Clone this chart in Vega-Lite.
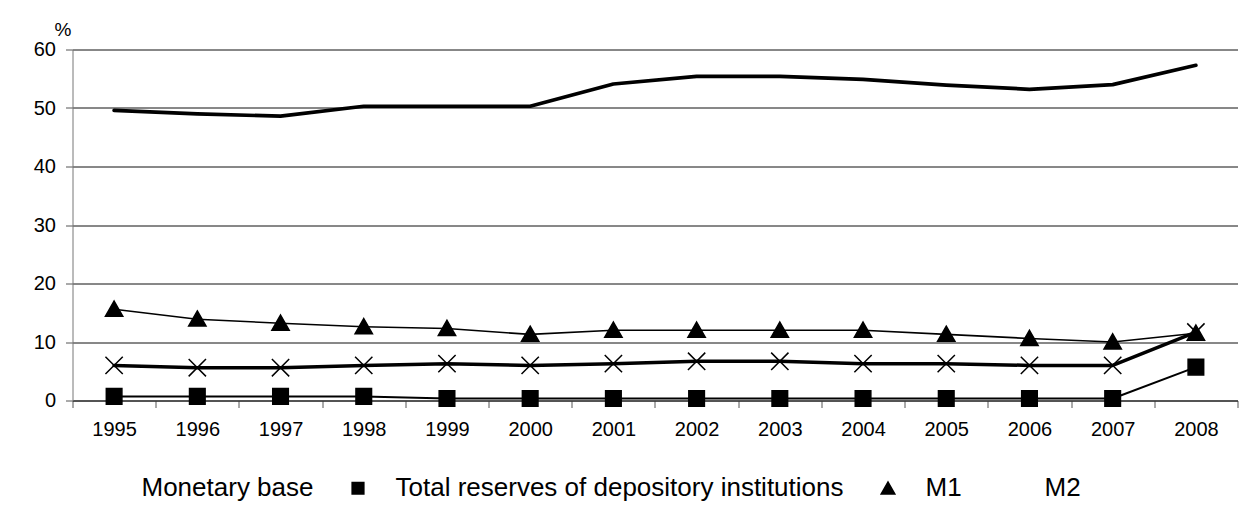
{
  "$schema": "https://vega.github.io/schema/vega-lite/v6.json",
  "width": 1165,
  "height": 351,
  "autosize": {"type": "none"},
  "padding": {"left": 72.5, "top": 49.5, "right": 17, "bottom": 117},
  "background": "white",
  "config": {
    "font": "Liberation Sans",
    "view": {"stroke": null},
    "axis": {"labelFont": "Liberation Sans", "titleFont": "Liberation Sans"},
    "legend": {
      "title": null,
      "orient": "none",
      "legendX": 0,
      "legendY": 407,
      "direction": "horizontal",
      "symbolSize": 3600,
      "symbolFillColor": "black",
      "symbolStrokeColor": "black",
      "symbolStrokeWidth": 2.5,
      "symbolOpacity": 1,
      "labelFontSize": 26,
      "labelColor": "black",
      "labelFont": "Liberation Sans",
      "labelLimit": 1000,
      "labelOffset": 6,
      "columnPadding": 9
    }
  },
  "data": {
    "values": [
      {"year": "1995", "series": "Monetary base", "value": 6.0},
      {"year": "1996", "series": "Monetary base", "value": 5.6},
      {"year": "1997", "series": "Monetary base", "value": 5.6},
      {"year": "1998", "series": "Monetary base", "value": 6.0},
      {"year": "1999", "series": "Monetary base", "value": 6.3},
      {"year": "2000", "series": "Monetary base", "value": 6.0},
      {"year": "2001", "series": "Monetary base", "value": 6.3},
      {"year": "2002", "series": "Monetary base", "value": 6.7},
      {"year": "2003", "series": "Monetary base", "value": 6.7},
      {"year": "2004", "series": "Monetary base", "value": 6.3},
      {"year": "2005", "series": "Monetary base", "value": 6.3},
      {"year": "2006", "series": "Monetary base", "value": 6.0},
      {"year": "2007", "series": "Monetary base", "value": 6.0},
      {"year": "2008", "series": "Monetary base", "value": 11.7},
      {"year": "1995", "series": "Total reserves of depository institutions", "value": 0.7},
      {"year": "1996", "series": "Total reserves of depository institutions", "value": 0.7},
      {"year": "1997", "series": "Total reserves of depository institutions", "value": 0.7},
      {"year": "1998", "series": "Total reserves of depository institutions", "value": 0.7},
      {"year": "1999", "series": "Total reserves of depository institutions", "value": 0.35},
      {"year": "2000", "series": "Total reserves of depository institutions", "value": 0.35},
      {"year": "2001", "series": "Total reserves of depository institutions", "value": 0.35},
      {"year": "2002", "series": "Total reserves of depository institutions", "value": 0.35},
      {"year": "2003", "series": "Total reserves of depository institutions", "value": 0.35},
      {"year": "2004", "series": "Total reserves of depository institutions", "value": 0.35},
      {"year": "2005", "series": "Total reserves of depository institutions", "value": 0.35},
      {"year": "2006", "series": "Total reserves of depository institutions", "value": 0.35},
      {"year": "2007", "series": "Total reserves of depository institutions", "value": 0.35},
      {"year": "2008", "series": "Total reserves of depository institutions", "value": 5.7},
      {"year": "1995", "series": "M1", "value": 15.6},
      {"year": "1996", "series": "M1", "value": 13.9},
      {"year": "1997", "series": "M1", "value": 13.2},
      {"year": "1998", "series": "M1", "value": 12.6},
      {"year": "1999", "series": "M1", "value": 12.3},
      {"year": "2000", "series": "M1", "value": 11.3},
      {"year": "2001", "series": "M1", "value": 12.0},
      {"year": "2002", "series": "M1", "value": 12.0},
      {"year": "2003", "series": "M1", "value": 12.0},
      {"year": "2004", "series": "M1", "value": 12.0},
      {"year": "2005", "series": "M1", "value": 11.3},
      {"year": "2006", "series": "M1", "value": 10.6},
      {"year": "2007", "series": "M1", "value": 10.0},
      {"year": "2008", "series": "M1", "value": 11.5},
      {"year": "1995", "series": "M2", "value": 49.6},
      {"year": "1996", "series": "M2", "value": 49.0},
      {"year": "1997", "series": "M2", "value": 48.6},
      {"year": "1998", "series": "M2", "value": 50.3},
      {"year": "1999", "series": "M2", "value": 50.3},
      {"year": "2000", "series": "M2", "value": 50.3},
      {"year": "2001", "series": "M2", "value": 54.1},
      {"year": "2002", "series": "M2", "value": 55.4},
      {"year": "2003", "series": "M2", "value": 55.4},
      {"year": "2004", "series": "M2", "value": 54.9},
      {"year": "2005", "series": "M2", "value": 53.9},
      {"year": "2006", "series": "M2", "value": 53.2},
      {"year": "2007", "series": "M2", "value": 54.0},
      {"year": "2008", "series": "M2", "value": 57.3}
    ]
  },
  "encoding": {
    "x": {
      "field": "year",
      "type": "ordinal",
      "scale": {"type": "band", "paddingInner": 0, "paddingOuter": 0},
      "axis": {
        "title": null,
        "labelAngle": 0,
        "labelFontSize": 20,
        "labelColor": "black",
        "labelPadding": 12,
        "tickBand": "extent",
        "tickSize": 7,
        "tickColor": "#555",
        "domainColor": "#222",
        "grid": false
      }
    },
    "y": {
      "field": "value",
      "type": "quantitative",
      "scale": {"domain": [0, 60], "nice": false},
      "axis": {
        "values": [0, 10, 20, 30, 40, 50, 60],
        "title": "%",
        "titleAngle": 0,
        "titleFontSize": 19,
        "titleFontWeight": "normal",
        "titleColor": "black",
        "titleX": -10,
        "titleY": -20,
        "titleAlign": "center",
        "titleBaseline": "middle",
        "labelFontSize": 20,
        "labelColor": "black",
        "labelPadding": 10,
        "tickSize": 7,
        "tickColor": "#555",
        "domainColor": "#777",
        "grid": true,
        "gridColor": "#111",
        "gridWidth": 1
      }
    }
  },
  "resolve": {
    "scale": {"shape": "independent"},
    "legend": {"shape": "independent"}
  },
  "layer": [
    {
      "mark": {"type": "line", "color": "black", "strokeJoin": "round", "strokeCap": "round"},
      "encoding": {
        "detail": {"field": "series"},
        "strokeWidth": {
          "field": "series",
          "type": "nominal",
          "scale": {
            "type": "ordinal",
            "domain": ["Monetary base", "Total reserves of depository institutions", "M1", "M2"],
            "range": [3.5, 2, 1.6, 3.7]
          },
          "legend": null
        }
      }
    },
    {
      "mark": {"type": "point", "filled": true, "fill": "black", "stroke": "black", "strokeWidth": 1.5, "opacity": 1, "size": 300},
      "encoding": {
        "shape": {
          "field": "series",
          "type": "nominal",
          "scale": {
            "domain": ["Monetary base", "Total reserves of depository institutions", "M1", "M2"],
            "range": [
              "M-1,-1L1,1M-1,1L1,-1",
              "M-0.9,-0.9H0.9V0.9H-0.9Z",
              "M0,-0.95L1,0.8L-1,0.8Z",
              "M0,0"
            ]
          },
          "legend": null
        }
      }
    },
    {
      "mark": {"type": "point", "filled": false, "opacity": 1, "size": 0},
      "encoding": {
        "fill": {"value": "black"},
        "stroke": {"value": "black"},
        "shape": {
          "field": "series",
          "type": "nominal",
          "scale": {
            "domain": ["Monetary base", "Total reserves of depository institutions", "M1", "M2"],
            "range": [
              "M-1,0H1M-0.24,-0.24L0.24,0.24M-0.24,0.24L0.24,-0.24",
              "M-1,0H1M-0.22,-0.22H0.22V0.22H-0.22Z",
              "M-1,0H1M0,-0.26L0.27,0.22L-0.27,0.22Z",
              "M-1,0H1"
            ]
          }
        }
      }
    }
  ]
}
